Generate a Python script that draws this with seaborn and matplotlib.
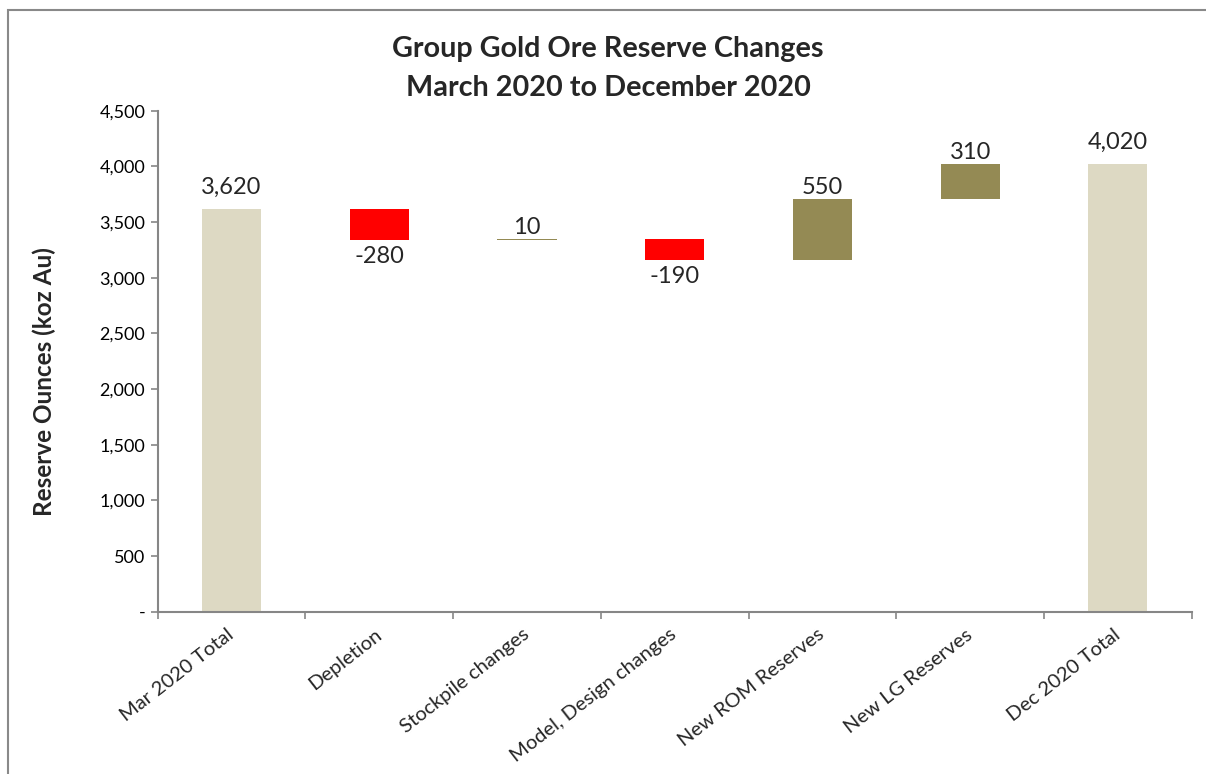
import matplotlib
matplotlib.use("Agg")
import matplotlib.pyplot as plt
from matplotlib.patches import Rectangle
from matplotlib.ticker import FixedLocator, FuncFormatter
import numpy as np
import pandas as pd
import seaborn as sns

# ---- data (koz Au) ----
categories = ["Mar 2020 Total", "Depletion", "Stockpile changes",
              "Model, Design changes", "New ROM Reserves", "New LG Reserves",
              "Dec 2020 Total"]
changes = [3620, -280, 10, -190, 550, 310, 4020]
is_total = [True, False, False, False, False, False, True]

title_lines = ["Group Gold Ore Reserve Changes", "March 2020 to December 2020"]
y_label = "Reserve Ounces (koz Au)"
y_ticks = [0, 500, 1000, 1500, 2000, 2500, 3000, 3500, 4000, 4500]

TOTAL_C = "#DDD9C3"
UP_C = "#948A54"
DOWN_C = "#FF0000"

# ---- waterfall geometry ----
bottoms, heights, colors = [], [], []
running = 0
for v, tot in zip(changes, is_total):
    if tot:
        bottoms.append(0)
        heights.append(v)
        colors.append(TOTAL_C)
        running = v
    else:
        start, end = running, running + v
        bottoms.append(min(start, end))
        heights.append(abs(v))
        colors.append(UP_C if v > 0 else DOWN_C)
        running = end

df = pd.DataFrame({"category": categories, "height": heights,
                   "bottom": bottoms, "change": changes, "total": is_total})

sns.set_style("white")
plt.rcParams["font.family"] = ["Lato", "DejaVu Sans"]

W, H, DPI = 1206, 774, 100
fig = plt.figure(figsize=(W / DPI, H / DPI), dpi=DPI)
ax = fig.add_axes([157.7 / W, 1 - 611.7 / H, (1191.7 - 157.7) / W, (611.7 - 110.7) / H])

sns.barplot(data=df, x="category", y="height", hue="category",
            palette=dict(zip(categories, colors)), order=categories,
            hue_order=categories, legend=False, width=0.4, saturation=1,
            linewidth=0, ax=ax)

# float each bar on its running base
for patch, b in zip(ax.patches, df["bottom"]):
    patch.set_y(b)

ax.set_ylim(0, 4500)
ax.set_xlim(-0.5, len(categories) - 0.5)

# y axis
ax.yaxis.set_major_locator(FixedLocator(y_ticks))
ax.yaxis.set_major_formatter(FuncFormatter(lambda v, _: "-" if v == 0 else f"{v:,.0f}"))
ax.tick_params(axis="y", which="major", direction="out", length=5, width=1.2,
               color="#868686", labelsize=13, labelcolor="black", pad=4, left=True)

# x axis: tick marks between categories, labels centred on categories
n = len(categories)
ax.xaxis.set_major_locator(FixedLocator(np.arange(-0.5, n, 1.0)))
ax.xaxis.set_minor_locator(FixedLocator(np.arange(n)))
ax.set_xticklabels([""] * (n + 1))
ax.set_xticklabels(categories, minor=True, rotation=38, ha="right", va="center",
                   rotation_mode="anchor", fontsize=14.5)
ax.tick_params(axis="x", which="major", direction="out", length=5, width=1.2,
               color="#868686", bottom=True)
ax.tick_params(axis="x", which="minor", length=0, pad=15)
ax.set_xlabel("")
ax.set_ylabel("")

for side in ("top", "right"):
    ax.spines[side].set_visible(False)
for side in ("left", "bottom"):
    ax.spines[side].set_color("#868686")
    ax.spines[side].set_linewidth(1.5)

# value labels
PX = 0.72  # points per pixel at 100 dpi
for i, row in df.iterrows():
    top = row["bottom"] + row["height"]
    text = f"{row['change']:,}"
    if row["total"]:
        ax.annotate(text, (i, top), xytext=(0, 15 * PX), textcoords="offset points",
                    ha="center", va="baseline", fontsize=17)
    elif row["change"] > 0:
        ax.annotate(text, (i, top), xytext=(0, 5 * PX), textcoords="offset points",
                    ha="center", va="baseline", fontsize=17)
    else:
        ax.annotate(text, (i, row["bottom"]), xytext=(0, -6 * PX), textcoords="offset points",
                    ha="center", va="top", fontsize=17)

# titles
fig.text(608 / W, 1 - 49 / H, title_lines[0], ha="center", va="center",
         fontsize=20.7, fontweight="bold")
fig.text(608 / W, 1 - 88 / H, title_lines[1], ha="center", va="center",
         fontsize=20.7, fontweight="bold")
fig.text(44 / W, 1 - 382 / H, y_label, ha="center", va="center", rotation=90,
         fontsize=17.5, fontweight="bold")

# chart-area frame
fig.patches.append(Rectangle((8 / W, -0.05), 1.2, 1 - 10 / H + 0.05,
                             transform=fig.transFigure, fill=False,
                             edgecolor="#898989", linewidth=1.5))

fig.savefig("out.png", dpi=DPI)
